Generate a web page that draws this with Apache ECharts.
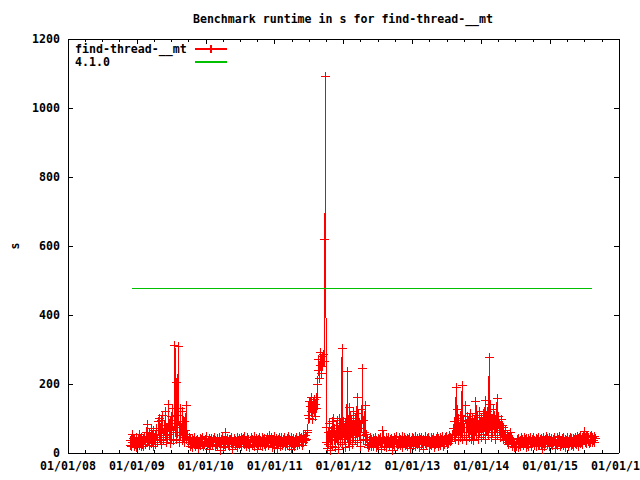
<!DOCTYPE html>
<html>
<head>
<meta charset="utf-8">
<script src="https://cdn.jsdelivr.net/npm/echarts@6/dist/echarts.min.js"></script>
<style>html,body{margin:0;padding:0;background:#fff}#c{width:640px;height:480px}
#c svg path{shape-rendering:crispEdges}</style>
</head>
<body>
<div id="c"></div>
<script>
// ---- data ----
const chartTitle = 'Benchmark runtime in s for find-thread-__mt';
const seriesName = 'find-thread-__mt';
const startDate = '2008-11-26';   // first sample
const stepDays = 3.5;             // samples read at twice-weekly spacing
const runtimeValues = [
  // late 2008 - early 2009
  22, 35, 18, 55, 30, 42, 20, 38, 25, 45, 15, 33, 28, 40, 22, 55, 30, 18, 44, 26,
  38, 20, 48, 32, 25, 60, 84, 30, 45, 22, 60, 38, 70, 28, 50, 20, 65, 35, 55, 25,
  72, 40, 30, 90, 100, 45,
  // 2009 spikes
  40, 95, 25, 110, 60, 35, 80, 50, 120, 30, 70, 45, 142, 55, 85, 28, 105, 40, 130, 65,
  35, 95, 313, 60, 205, 40, 110, 310, 90, 30, 130, 50, 75, 35, 120, 45, 90, 30, 65, 139,
  40, 55, 35,
  // mid 2009 - mid 2011
  30, 45, 18, 38, 25, 42, 15, 35, 28, 44,
  20, 36, 30, 40, 12, 33, 26, 42, 22, 38,
  28, 45, 19, 34, 24, 40, 30, 47, 21, 37,
  27, 43, 10, 35, 29, 41, 23, 38, 31, 46,
  18, 36, 25, 42, 20, 33, 28, 44, 8, 39,
  30, 45, 16, 37, 26, 58, 19, 35, 29, 43,
  24, 38, 20, 40, 27, 45, 10, 34, 30, 42,
  22, 37, 28, 44, 17, 36, 25, 41, 31, 46,
  20, 38, 27, 43, 24, 48, 30, 35, 18, 44,
  26, 40, 15, 37, 29, 45, 21, 39, 32, 47,
  19, 35, 28, 43, 9, 38, 25, 44, 22, 36,
  30, 46, 18, 40, 26, 42, 20, 37, 28, 45,
  23, 39, 52, 34, 27, 44, 16, 38, 30, 47,
  21, 36, 29, 43, 12, 40, 25, 45, 19, 37,
  31, 46, 22, 39, 27, 44, 18, 35, 28, 42,
  24, 47, 20, 38, 30, 45, 10, 36, 26, 43,
  19, 40, 28, 46, 22, 37, 31, 48, 25, 41,
  29, 45, 21, 50, 30, 43, 35, 52, 40, 60,
  // mid 2011 plateau
  66, 110, 150, 100, 135, 162, 120, 98, 145, 125, 155, 105, 140, 160, 130,
  // autumn 2011 peak
  200, 240, 270, 215, 255, 290, 230, 280, 250, 285, 265, 620, 1090,
  // late 2011 - early 2012
  30, 75, 12, 60, 25, 85, 8, 55, 40, 90,
  20, 101, 35, 70, 15, 80, 45, 95, 10, 65,
  101, 30, 85, 50, 304, 25, 90, 40, 75, 15,
  100, 55, 235, 30, 85, 133, 20, 110, 60, 95,
  25, 120, 45, 80, 100, 35, 90, 160, 30, 115,
  50, 85, 20, 125, 70, 246, 35, 95, 60, 139,
  40, 55,
  // 2012 - 2013
  25, 40, 15, 35, 22, 44, 18, 38, 28, 42,
  20, 36, 30, 45, 17, 36, 26, 41, 21, 38,
  29, 45, 10, 34, 66, 42, 19, 37, 31, 44,
  16, 35, 27, 46, 22, 39, 30, 43, 8, 36,
  24, 45, 20, 40, 28, 47, 18, 35, 26, 44,
  21, 38, 30, 48, 15, 37, 27, 45, 23, 40,
  29, 43, 18, 39, 25, 46, 12, 36, 28, 44,
  22, 41, 30, 47, 19, 35, 26, 42, 31, 45,
  17, 38, 24, 44, 29, 40, 10, 36, 27, 48,
  23, 42, 30, 45, 18, 37, 26, 44, 21, 39,
  28, 46, 15, 35, 25, 43, 30, 48, 20, 41,
  27, 45, 22, 38, 31, 47, 19, 40, 26, 44,
  30, 49, 24, 41, 28, 52, 33, 46, 38, 55,
  45, 70,
  // 2014
  55, 90, 40, 191, 60, 125, 35, 100, 70, 45,
  110, 60, 197, 40, 95, 75, 50, 139, 85, 35,
  105, 60, 90, 45, 115, 70, 40, 100, 55, 85,
  35, 95, 65, 148, 50, 110, 75, 40, 120, 60,
  90, 45, 104, 70, 115, 55, 85, 153, 40, 110,
  65, 120, 50, 278, 75, 140, 45, 100, 60, 125,
  80, 110, 40, 95, 70, 159, 50, 105, 65, 85,
  45, 96, 60, 81, 40, 75,
  50, 35, 65, 40, 55, 30, 48, 25, 45, 35, 58, 28, 40, 20, 32, 15, 28, 20, 25,
  // 2015
  20, 38, 15, 42, 25, 36, 18, 44, 28, 40,
  22, 45, 30, 38, 17, 43, 26, 41, 20, 37,
  31, 46, 19, 39, 27, 44, 22, 36, 29, 42,
  18, 40, 25, 45, 21, 38, 30, 43, 10, 35,
  27, 44, 20, 39, 28, 47, 24, 41, 30, 45,
  19, 37, 26, 43, 22, 40, 31, 46, 12, 36,
  28, 44, 21, 38, 30, 47, 18, 35, 25, 42,
  23, 45, 29, 40, 16, 37, 27, 44, 20, 39,
  30, 46, 22, 41, 26, 43, 19, 38, 28, 45,
  24, 48, 30, 42, 20, 44, 27, 50, 32, 46,
  25, 52, 35, 61, 30, 48, 28, 50, 33, 45,
  27, 47, 31, 52, 29, 44, 35, 48, 30, 42
];
const refName = '4.1.0';
const refValue = 477;
const refStart = '2008-12-06';
const refEnd = '2015-08-10';
const xMinYear = 2008, xMaxYear = 2016;
const yMin = 0, yMax = 1200, yStep = 200;
const yAxisName = 's';

// ---- helpers ----
function dateMs(s) { const p = s.split('-').map(Number); return Date.UTC(p[0], p[1] - 1, p[2]); }
function toYear(ms) {
  const y = new Date(ms).getUTCFullYear();
  const a = Date.UTC(y, 0, 1), b = Date.UTC(y + 1, 0, 1);
  return y + (ms - a) / (b - a);
}
const DAY = 86400000;
const t0 = dateMs(startDate);
const runtimeData = runtimeValues.map((v, i) => [toYear(t0 + i * stepDays * DAY), v]);
const refData = [[toYear(dateMs(refStart)), refValue], [toYear(dateMs(refEnd)), refValue]];

const FONT = 'DejaVu Sans Mono';
const txt = { fontFamily: FONT, fontWeight: 'bold', fontSize: 11.6, color: '#000' };
const cross = 'path://M0,5L10,5M5,0L5,10';

const chart = echarts.init(document.getElementById('c'), null, { renderer: 'svg' });
const baseX = {
  type: 'value', min: xMinYear, max: xMaxYear, interval: 1,
  axisLine: { show: true, onZero: false, lineStyle: { color: '#000', width: 1 } },
  axisTick: { show: true, inside: true, length: 5, lineStyle: { color: '#000' } },
  minorTick: { show: true, splitNumber: 4, length: 3, lineStyle: { color: '#000' } },
  splitLine: { show: false }
};
const baseY = {
  type: 'value', min: yMin, max: yMax, interval: yStep,
  axisLine: { show: true, onZero: false, lineStyle: { color: '#000', width: 1 } },
  axisTick: { show: true, inside: true, length: 5, lineStyle: { color: '#000' } },
  splitLine: { show: false }
};
chart.setOption({
  animation: false,
  backgroundColor: '#fff',
  title: {
    text: chartTitle, left: 343, top: 13, textAlign: 'center', padding: 0,
    textStyle: Object.assign({}, txt)
  },
  grid: { left: 68, right: 21, top: 39, bottom: 27, show: false, containLabel: false, outerBoundsMode: 'none' },
  legend: {
    orient: 'vertical', left: 75, top: 42, itemGap: 1, padding: 0,
    align: 'right', itemWidth: 32, itemHeight: 10,
    data: [seriesName, refName],
    formatter: n => '{a|' + n + '}',
    textStyle: Object.assign({}, txt, { rich: { a: Object.assign({}, txt, { width: 115, align: 'left' }) } })
  },
  xAxis: [
    Object.assign({}, baseX, {
      position: 'bottom',
      axisLabel: Object.assign({}, txt, { margin: 7, formatter: v => '01/01/' + String(Math.round(v) % 100).padStart(2, '0') })
    }),
    Object.assign({}, baseX, { position: 'top', axisLabel: { show: false } })
  ],
  yAxis: [
    Object.assign({}, baseY, {
      position: 'left',
      name: yAxisName, nameLocation: 'middle', nameGap: 47, nameRotate: 90,
      nameTextStyle: Object.assign({}, txt),
      axisLabel: Object.assign({}, txt, { margin: 8, formatter: v => String(v) })
    }),
    Object.assign({}, baseY, { position: 'right', axisLabel: { show: false } })
  ],
  series: [
    {
      name: seriesName, type: 'line', data: runtimeData,
      symbol: cross, symbolSize: 9, showSymbol: true, showAllSymbol: true,
      lineStyle: { color: '#ff0000', width: 1 },
      itemStyle: { color: 'none', borderColor: '#ff0000', borderWidth: 1 },
      clip: false
    },
    {
      name: refName, type: 'line', data: refData, symbol: 'circle', showSymbol: false,
      lineStyle: { color: '#00c000', width: 1 },
      itemStyle: { color: 'rgba(0,0,0,0)' }
    }
  ]
});
</script>
</body>
</html>
